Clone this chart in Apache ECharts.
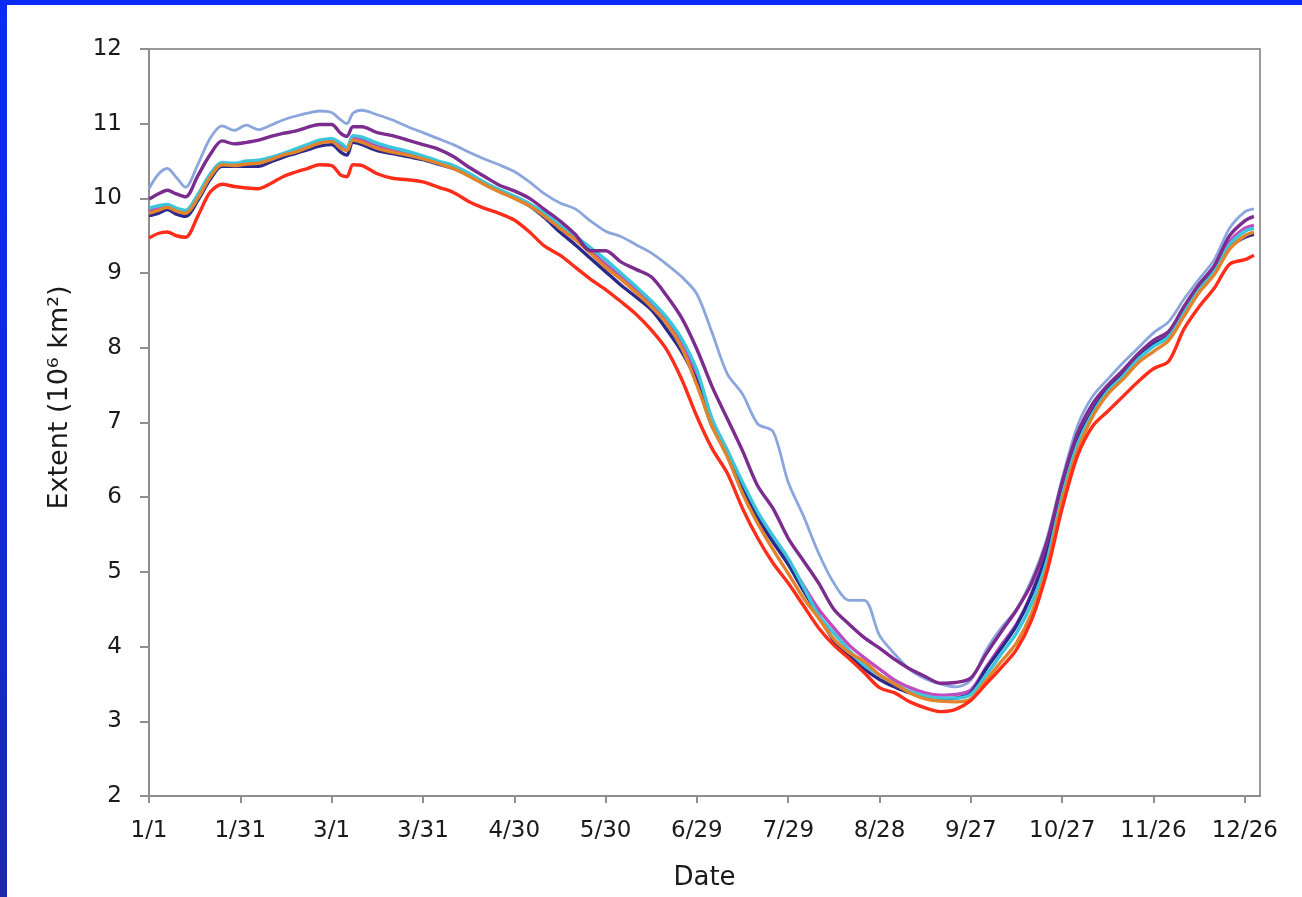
<!DOCTYPE html>
<html>
<head>
<meta charset="utf-8">
<script src="https://cdn.jsdelivr.net/npm/echarts@6/dist/echarts.min.js"></script>
<style>
  html, body { margin: 0; padding: 0; width: 1302px; height: 897px; overflow: hidden;
    background: linear-gradient(to bottom, #0a2cf6 0%, #0d2be0 50%, #1b2aa6 100%); }
  #panel { position: absolute; left: 7px; top: 5px; right: 0; bottom: 0; background: #ffffff; }
  #chart { position: absolute; left: 0; top: 0; width: 1302px; height: 897px; }
</style>
</head>
<body>
<div id="panel"></div>
<div id="chart"></div>
<script>
// Day of year (0 = 1/1, leap year)
const days = [0,3,6,9,12,16,20,24,28,32,36,40,44,48,52,56,60,63,65,67,70,75,80,85,90,95,100,105,110,115,120,125,130,135,140,145,150,155,160,165,170,175,180,185,190,195,200,205,210,215,220,225,230,235,240,245,250,255,260,265,270,275,280,285,290,295,300,305,310,315,320,325,330,335,340,345,350,355,360,363];

const xTickLabels = ['1/1','1/31','3/1','3/31','4/30','5/30','6/29','7/29','8/28','9/27','10/27','11/26','12/26'];

const lightBlue = [10.13,10.32,10.40,10.28,10.15,10.45,10.80,10.97,10.91,10.98,10.92,10.98,11.05,11.10,11.14,11.17,11.15,11.05,11.00,11.14,11.18,11.12,11.05,10.96,10.88,10.80,10.72,10.62,10.53,10.45,10.36,10.22,10.06,9.94,9.86,9.70,9.56,9.49,9.38,9.27,9.12,8.95,8.72,8.20,7.65,7.38,6.98,6.88,6.20,5.75,5.25,4.85,4.62,4.62,4.15,3.90,3.69,3.57,3.50,3.46,3.55,3.95,4.25,4.50,4.90,5.45,6.25,6.95,7.35,7.58,7.80,8.00,8.20,8.35,8.65,8.92,9.18,9.60,9.82,9.86];

const purple = [9.99,10.06,10.11,10.06,10.02,10.30,10.58,10.77,10.73,10.75,10.78,10.83,10.87,10.90,10.95,10.99,10.99,10.87,10.83,10.96,10.96,10.88,10.84,10.78,10.72,10.66,10.56,10.42,10.30,10.18,10.10,10.00,9.85,9.70,9.52,9.30,9.30,9.15,9.05,8.95,8.70,8.40,7.98,7.48,7.05,6.62,6.15,5.85,5.45,5.15,4.85,4.50,4.30,4.12,3.98,3.83,3.70,3.60,3.51,3.52,3.58,3.90,4.20,4.49,4.85,5.40,6.20,6.85,7.25,7.50,7.70,7.92,8.10,8.22,8.55,8.85,9.10,9.50,9.70,9.76];

const cyan = [9.87,9.90,9.92,9.87,9.84,10.05,10.32,10.48,10.47,10.50,10.51,10.55,10.60,10.66,10.72,10.78,10.80,10.74,10.68,10.84,10.82,10.74,10.68,10.63,10.57,10.50,10.44,10.34,10.22,10.12,10.03,9.93,9.80,9.64,9.50,9.34,9.18,9.00,8.82,8.63,8.41,8.12,7.70,7.05,6.63,6.20,5.80,5.48,5.18,4.80,4.42,4.18,3.95,3.75,3.62,3.50,3.40,3.34,3.31,3.31,3.36,3.62,3.90,4.18,4.58,5.15,6.02,6.70,7.12,7.42,7.62,7.85,8.02,8.15,8.48,8.78,9.02,9.38,9.56,9.60];

const orange = [9.80,9.84,9.88,9.83,9.80,10.00,10.28,10.45,10.44,10.46,10.47,10.52,10.58,10.62,10.68,10.74,10.76,10.67,10.64,10.78,10.75,10.67,10.62,10.58,10.53,10.47,10.40,10.30,10.19,10.09,10.00,9.90,9.76,9.60,9.45,9.27,9.08,8.92,8.74,8.55,8.33,8.00,7.50,6.95,6.54,6.05,5.65,5.30,4.98,4.65,4.38,4.10,3.92,3.80,3.62,3.50,3.38,3.30,3.27,3.26,3.30,3.55,3.80,4.05,4.45,5.05,5.95,6.62,7.08,7.38,7.58,7.80,7.95,8.10,8.42,8.74,8.98,9.32,9.50,9.55];

const navy = [9.77,9.80,9.85,9.79,9.76,9.97,10.25,10.43,10.43,10.43,10.43,10.49,10.55,10.60,10.65,10.70,10.72,10.62,10.58,10.75,10.72,10.64,10.60,10.56,10.52,10.46,10.40,10.31,10.20,10.10,10.01,9.90,9.74,9.55,9.38,9.20,9.02,8.84,8.68,8.51,8.25,7.95,7.55,6.95,6.62,6.12,5.72,5.40,5.10,4.75,4.42,4.08,3.88,3.70,3.56,3.46,3.38,3.33,3.30,3.31,3.38,3.70,3.98,4.28,4.70,5.25,6.10,6.75,7.15,7.45,7.65,7.88,8.05,8.16,8.50,8.80,9.02,9.35,9.48,9.52];

const magenta = [9.83,9.87,9.90,9.85,9.82,10.03,10.30,10.47,10.46,10.48,10.49,10.54,10.59,10.64,10.70,10.76,10.78,10.70,10.66,10.81,10.78,10.70,10.65,10.60,10.55,10.49,10.42,10.33,10.21,10.11,10.02,9.92,9.78,9.62,9.47,9.30,9.12,8.95,8.78,8.60,8.38,8.08,7.62,7.02,6.60,6.15,5.76,5.45,5.15,4.82,4.50,4.25,4.02,3.85,3.70,3.55,3.45,3.38,3.35,3.36,3.42,3.72,4.02,4.30,4.72,5.30,6.12,6.78,7.18,7.45,7.65,7.86,8.04,8.18,8.50,8.80,9.05,9.42,9.60,9.64];

const red = [9.47,9.53,9.55,9.50,9.48,9.76,10.08,10.19,10.16,10.14,10.13,10.20,10.29,10.35,10.40,10.45,10.44,10.31,10.29,10.45,10.44,10.33,10.27,10.25,10.22,10.15,10.08,9.96,9.87,9.80,9.71,9.55,9.36,9.24,9.08,8.92,8.78,8.62,8.45,8.24,7.98,7.58,7.08,6.65,6.32,5.85,5.45,5.12,4.85,4.55,4.25,4.02,3.84,3.65,3.45,3.38,3.26,3.18,3.13,3.16,3.28,3.50,3.72,3.96,4.36,5.00,5.85,6.55,6.95,7.15,7.35,7.55,7.72,7.82,8.25,8.55,8.80,9.12,9.18,9.24];

const seriesDefs = [
  { name: 'lightBlue', data: lightBlue, color: '#8ba6dc', width: 2.8 },
  { name: 'magenta', data: magenta, color: '#c04cc0', width: 3.4 },
  { name: 'navy', data: navy, color: '#2b2a8c', width: 3.4 },
  { name: 'cyan', data: cyan, color: '#3cc6dc', width: 3.4 },
  { name: 'orange', data: orange, color: '#e2842c', width: 3.4 },
  { name: 'purple', data: purple, color: '#7b2c8e', width: 3.4 },
  { name: 'red', data: red, color: '#ff2d1a', width: 3.4 }
];

const chart = echarts.init(document.getElementById('chart'), null, { renderer: 'canvas' });
const font = 'DejaVu Sans';
chart.setOption({
  backgroundColor: 'transparent',
  animation: false,
  grid: { left: 149, top: 49, right: 42, bottom: 101, show: true, borderColor: '#9a9a9a', borderWidth: 2, backgroundColor: 'transparent' },
  xAxis: {
    type: 'value', min: 0, max: 365, interval: 30,
    name: 'Date', nameLocation: 'middle', nameGap: 69,
    nameTextStyle: { fontFamily: font, fontSize: 26, color: '#1a1a1a' },
    axisLine: { lineStyle: { color: '#8e8e8e', width: 2 } },
    axisTick: { show: true, length: 7, lineStyle: { color: '#8e8e8e', width: 2 } },
    axisLabel: { fontFamily: font, fontSize: 23, color: '#1a1a1a', margin: 24, showMaxLabel: false,
      formatter: function (v) { return xTickLabels[Math.round(v / 30)] || ''; } },
    splitLine: { show: false }
  },
  yAxis: {
    type: 'value', min: 2, max: 12, interval: 1,
    name: 'Extent (10\u2076 km\u00b2)', nameLocation: 'middle', nameGap: 76,
    nameTextStyle: { fontFamily: font, fontSize: 27, color: '#1a1a1a', padding: [0, 0, 0, 50] },
    axisLine: { show: true, lineStyle: { color: '#8e8e8e', width: 2 } },
    axisTick: { show: true, length: 9, lineStyle: { color: '#8e8e8e', width: 2 } },
    axisLabel: { fontFamily: font, fontSize: 23, color: '#1a1a1a', margin: 27 },
    splitLine: { show: false }
  },
  series: seriesDefs.map(function (s) {
    return {
      name: s.name, type: 'line', showSymbol: false, smooth: 0.3,
      data: days.map(function (d, i) { return [d, s.data[i]]; }),
      lineStyle: { color: s.color, width: s.width },
      itemStyle: { color: s.color },
      z: 2
    };
  })
});
</script>
</body>
</html>
